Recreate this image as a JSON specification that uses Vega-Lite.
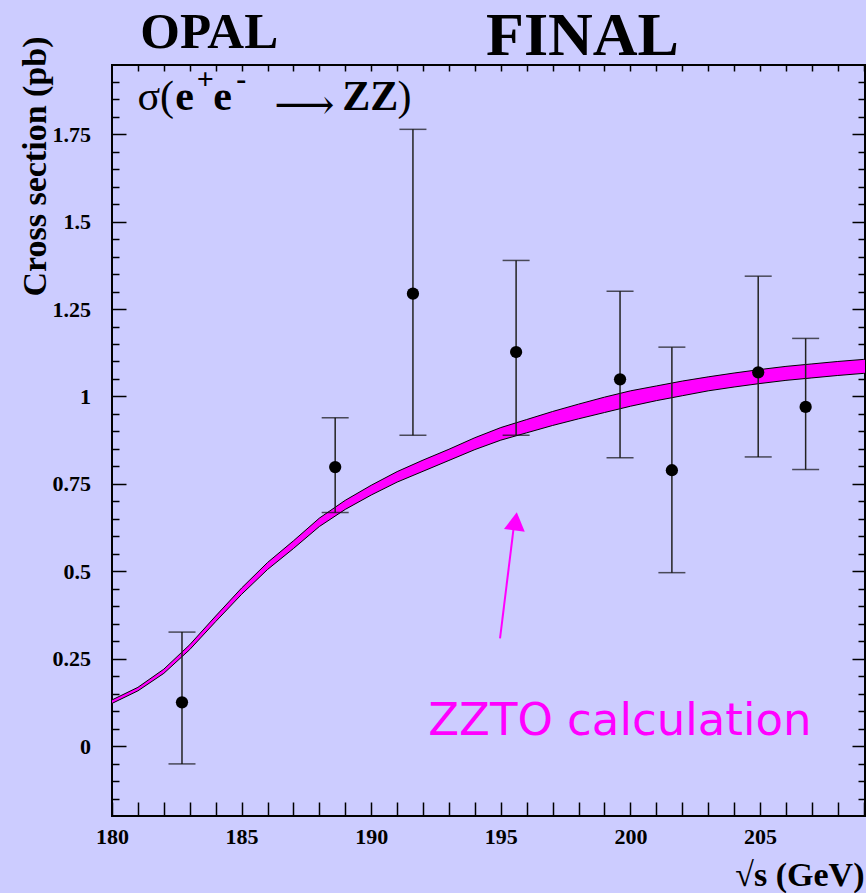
{
  "$schema": "https://vega.github.io/schema/vega-lite/v6.json",
  "width": 753,
  "height": 751,
  "autosize": "none",
  "padding": {"left": 112, "top": 65, "right": 1, "bottom": 77},
  "background": "#ccccff",
  "config": {
    "view": {"stroke": "black", "strokeWidth": 2, "fill": null},
    "axis": {"grid": false, "domain": false, "ticks": true, "tickColor": "black", "tickWidth": 1.5, "labelColor": "black", "titleColor": "black", "labelFont": "Liberation Serif", "titleFont": "Liberation Serif", "labelFontWeight": "bold", "titleFontWeight": "bold", "labelOverlap": false, "labelFlush": false}
  },
  "datasets": {
    "band": [
      {"x": 180, "lo": 0.122, "hi": 0.132},
      {"x": 181, "lo": 0.158, "hi": 0.168},
      {"x": 182, "lo": 0.208, "hi": 0.220},
      {"x": 183, "lo": 0.276, "hi": 0.290},
      {"x": 184, "lo": 0.356, "hi": 0.372},
      {"x": 185, "lo": 0.434, "hi": 0.452},
      {"x": 186, "lo": 0.505, "hi": 0.525},
      {"x": 187, "lo": 0.565, "hi": 0.587},
      {"x": 188, "lo": 0.628, "hi": 0.652},
      {"x": 189, "lo": 0.677, "hi": 0.703},
      {"x": 190, "lo": 0.718, "hi": 0.746},
      {"x": 191, "lo": 0.755, "hi": 0.785},
      {"x": 192, "lo": 0.786, "hi": 0.818},
      {"x": 193, "lo": 0.817, "hi": 0.849},
      {"x": 194, "lo": 0.848, "hi": 0.882},
      {"x": 195, "lo": 0.875, "hi": 0.911},
      {"x": 196, "lo": 0.896, "hi": 0.934},
      {"x": 197, "lo": 0.917, "hi": 0.957},
      {"x": 198, "lo": 0.936, "hi": 0.978},
      {"x": 199, "lo": 0.954, "hi": 0.998},
      {"x": 200, "lo": 0.972, "hi": 1.016},
      {"x": 201, "lo": 0.988, "hi": 1.030},
      {"x": 202, "lo": 1.002, "hi": 1.044},
      {"x": 203, "lo": 1.016, "hi": 1.056},
      {"x": 204, "lo": 1.027, "hi": 1.067},
      {"x": 205, "lo": 1.037, "hi": 1.077},
      {"x": 206, "lo": 1.046, "hi": 1.086},
      {"x": 207, "lo": 1.053, "hi": 1.093},
      {"x": 208, "lo": 1.060, "hi": 1.100},
      {"x": 209, "lo": 1.066, "hi": 1.106},
      {"x": 210, "lo": 1.071, "hi": 1.111}
    ],
    "points": [
      {"x": 182.70, "y": 0.125, "lo": -0.051, "hi": 0.326},
      {"x": 188.61, "y": 0.798, "lo": 0.668, "hi": 0.939},
      {"x": 191.61, "y": 1.294, "lo": 0.889, "hi": 1.764},
      {"x": 195.59, "y": 1.127, "lo": 0.889, "hi": 1.389},
      {"x": 199.60, "y": 1.049, "lo": 0.825, "hi": 1.301},
      {"x": 201.60, "y": 0.789, "lo": 0.496, "hi": 1.141},
      {"x": 204.93, "y": 1.069, "lo": 0.827, "hi": 1.344},
      {"x": 206.76, "y": 0.970, "lo": 0.791, "hi": 1.166}
    ]
  },
  "resolve": {"axis": {"x": "independent", "y": "independent"}},
  "layer": [
    {
      "data": {"name": "band"},
      "mark": {"type": "area", "color": "#ff00ff", "clip": true, "opacity": 1},
      "encoding": {
        "x": {"field": "x", "type": "quantitative", "scale": {"domain": [180, 209.05], "nice": false, "zero": false},
          "axis": {"orient": "bottom", "values": [180,181,182,183,184,185,186,187,188,189,190,191,192,193,194,195,196,197,198,199,200,201,202,203,204,205,206,207,208,209],
            "labelExpr": "datum.value % 5 === 0 ? format(datum.value, 'd') : ''",
            "tickSize": -14,
            "labelPadding": 24, "labelFontSize": 22,
            "title": "√s (GeV)", "titleFontSize": 34, "titleAnchor": "end", "titleAlign": "right", "titleBaseline": "alphabetic", "titleX": 752, "titleY": 69}},
        "y": {"field": "lo", "type": "quantitative", "scale": {"domain": [-0.2, 1.948], "nice": false, "zero": false},
          "axis": {"orient": "left", "values": [-0.15,-0.1,-0.05,0,0.05,0.1,0.15,0.2,0.25,0.3,0.35,0.4,0.45,0.5,0.55,0.6,0.65,0.7,0.75,0.8,0.85,0.9,0.95,1,1.05,1.1,1.15,1.2,1.25,1.3,1.35,1.4,1.45,1.5,1.55,1.6,1.65,1.7,1.75,1.8,1.85,1.9],
            "labelExpr": "abs(datum.value*4 - round(datum.value*4)) < 0.000001 ? format(datum.value, '~g') : ''",
            "tickSize": -14,
            "tickDash": {"condition": {"test": "abs(datum.value*4 - round(datum.value*4)) < 0.000001", "value": []}, "value": [7, 30]},
            "labelPadding": 35.5, "labelFontSize": 22,
            "title": "Cross section (pb)", "titleFontSize": 34, "titleAngle": -90, "titleAnchor": "end", "titleAlign": "right", "titleBaseline": "alphabetic", "titleX": -67, "titleY": -29}},
        "y2": {"field": "hi"}
      }
    },
    {
      "data": {"name": "band"},
      "mark": {"type": "line", "color": "black", "strokeWidth": 1, "clip": true},
      "encoding": {
        "x": {"field": "x", "type": "quantitative", "scale": {"domain": [180, 209.05], "nice": false, "zero": false},
          "axis": {"orient": "top", "values": [181,182,183,184,185,186,187,188,189,190,191,192,193,194,195,196,197,198,199,200,201,202,203,204,205,206,207,208,209],
            "labels": false, "title": null,
            "tickSize": -6}},
        "y": {"field": "hi", "type": "quantitative", "scale": {"domain": [-0.2, 1.948], "nice": false, "zero": false},
          "axis": {"orient": "right", "values": [-0.15,-0.1,-0.05,0,0.05,0.1,0.15,0.2,0.25,0.3,0.35,0.4,0.45,0.5,0.55,0.6,0.65,0.7,0.75,0.8,0.85,0.9,0.95,1,1.05,1.1,1.15,1.2,1.25,1.3,1.35,1.4,1.45,1.5,1.55,1.6,1.65,1.7,1.75,1.8,1.85,1.9],
            "labels": false, "title": null,
            "tickSize": -13,
            "tickDash": {"condition": {"test": "abs(datum.value*4 - round(datum.value*4)) < 0.000001", "value": []}, "value": [7, 30]}}}
      }
    },
    {
      "data": {"name": "band"},
      "mark": {"type": "line", "color": "black", "strokeWidth": 1, "clip": true},
      "encoding": {
        "x": {"field": "x", "type": "quantitative", "scale": {"domain": [180, 209.05], "nice": false, "zero": false}, "axis": null},
        "y": {"field": "lo", "type": "quantitative", "scale": {"domain": [-0.2, 1.948], "nice": false, "zero": false}, "axis": null}
      }
    },
    {
      "data": {"name": "points"},
      "mark": {"type": "rule", "color": "#222222", "strokeWidth": 1.5},
      "encoding": {
        "x": {"field": "x", "type": "quantitative", "scale": {"domain": [180, 209.05], "nice": false, "zero": false}, "axis": null},
        "y": {"field": "lo", "type": "quantitative", "scale": {"domain": [-0.2, 1.948], "nice": false, "zero": false}, "axis": null},
        "y2": {"field": "hi"}
      }
    },
    {
      "data": {"name": "points"},
      "mark": {"type": "tick", "orient": "horizontal", "size": 27, "thickness": 1.5, "color": "#111111"},
      "encoding": {
        "x": {"field": "x", "type": "quantitative", "scale": {"domain": [180, 209.05], "nice": false, "zero": false}, "axis": null},
        "y": {"field": "lo", "type": "quantitative", "scale": {"domain": [-0.2, 1.948], "nice": false, "zero": false}, "axis": null}
      }
    },
    {
      "data": {"name": "points"},
      "mark": {"type": "tick", "orient": "horizontal", "size": 27, "thickness": 1.5, "color": "#111111"},
      "encoding": {
        "x": {"field": "x", "type": "quantitative", "scale": {"domain": [180, 209.05], "nice": false, "zero": false}, "axis": null},
        "y": {"field": "hi", "type": "quantitative", "scale": {"domain": [-0.2, 1.948], "nice": false, "zero": false}, "axis": null}
      }
    },
    {
      "data": {"name": "points"},
      "mark": {"type": "circle", "size": 150, "color": "black", "opacity": 1},
      "encoding": {
        "x": {"field": "x", "type": "quantitative", "scale": {"domain": [180, 209.05], "nice": false, "zero": false}, "axis": null},
        "y": {"field": "y", "type": "quantitative", "scale": {"domain": [-0.2, 1.948], "nice": false, "zero": false}, "axis": null}
      }
    },
    {
      "data": {"values": [{"x0": 194.97, "y0": 0.308, "x1": 195.50, "y1": 0.627}]},
      "mark": {"type": "rule", "color": "#ff00ff", "strokeWidth": 2},
      "encoding": {
        "x": {"field": "x0", "type": "quantitative", "scale": {"domain": [180, 209.05], "nice": false, "zero": false}, "axis": null},
        "y": {"field": "y0", "type": "quantitative", "scale": {"domain": [-0.2, 1.948], "nice": false, "zero": false}, "axis": null},
        "x2": {"field": "x1"},
        "y2": {"field": "y1"}
      }
    },
    {
      "data": {"values": [{"x": 195.57, "y": 0.6427}]},
      "mark": {"type": "point", "shape": "triangle-up", "size": 441, "filled": true, "color": "#ff00ff", "opacity": 1, "angle": 7.7},
      "encoding": {
        "x": {"field": "x", "type": "quantitative", "scale": {"domain": [180, 209.05], "nice": false, "zero": false}, "axis": null},
        "y": {"field": "y", "type": "quantitative", "scale": {"domain": [-0.2, 1.948], "nice": false, "zero": false}, "axis": null}
      }
    },
    {
      "data": {"values": [{"x": 192.2, "y": 0.0306, "t": "ZZTO calculation"}]},
      "mark": {"type": "text", "font": "DejaVu Sans", "fontSize": 45, "color": "#ff00ff", "align": "left", "baseline": "alphabetic"},
      "encoding": {
        "x": {"field": "x", "type": "quantitative", "scale": {"domain": [180, 209.05], "nice": false, "zero": false}, "axis": null},
        "y": {"field": "y", "type": "quantitative", "scale": {"domain": [-0.2, 1.948], "nice": false, "zero": false}, "axis": null},
        "text": {"field": "t"}
      }
    },
    {
      "data": {"values": [{"x": 183.75, "y": 1.9957, "t": "OPAL"}]},
      "mark": {"type": "text", "font": "Liberation Serif", "fontWeight": "bold", "fontSize": 51, "color": "black", "align": "center", "baseline": "alphabetic"},
      "encoding": {
        "x": {"field": "x", "type": "quantitative", "scale": {"domain": [180, 209.05], "nice": false, "zero": false}, "axis": null},
        "y": {"field": "y", "type": "quantitative", "scale": {"domain": [-0.2, 1.948], "nice": false, "zero": false}, "axis": null},
        "text": {"field": "t"}
      }
    },
    {
      "data": {"values": [{"x": 198.15, "y": 1.978, "t": "FINAL"}]},
      "mark": {"type": "text", "font": "Liberation Serif", "fontWeight": "bold", "fontSize": 62, "color": "black", "align": "center", "baseline": "alphabetic"},
      "encoding": {
        "x": {"field": "x", "type": "quantitative", "scale": {"domain": [180, 209.05], "nice": false, "zero": false}, "axis": null},
        "y": {"field": "y", "type": "quantitative", "scale": {"domain": [-0.2, 1.948], "nice": false, "zero": false}, "axis": null},
        "text": {"field": "t"}
      }
    },
    {
      "data": {"values": [{"x": 180.98, "y": 1.8184, "t": "σ("}, {"x": 191.01, "y": 1.8184, "t": ")"}]},
      "mark": {"type": "text", "font": "Liberation Serif", "fontSize": 42, "color": "black", "align": "left", "baseline": "alphabetic"},
      "encoding": {
        "x": {"field": "x", "type": "quantitative", "scale": {"domain": [180, 209.05], "nice": false, "zero": false}, "axis": null},
        "y": {"field": "y", "type": "quantitative", "scale": {"domain": [-0.2, 1.948], "nice": false, "zero": false}, "axis": null},
        "text": {"field": "t"}
      }
    },
    {
      "data": {"values": [{"x": 187.42, "y": 1.830, "t": "⟶"}]},
      "mark": {"type": "text", "font": "DejaVu Serif", "fontSize": 42, "color": "black", "align": "center", "baseline": "middle"},
      "encoding": {
        "x": {"field": "x", "type": "quantitative", "scale": {"domain": [180, 209.05], "nice": false, "zero": false}, "axis": null},
        "y": {"field": "y", "type": "quantitative", "scale": {"domain": [-0.2, 1.948], "nice": false, "zero": false}, "axis": null},
        "text": {"field": "t"}
      }
    },
    {
      "data": {"values": [{"x": 182.44, "y": 1.8184, "t": "e"}, {"x": 183.91, "y": 1.8184, "t": "e"}, {"x": 188.88, "y": 1.8184, "t": "ZZ"}]},
      "mark": {"type": "text", "font": "Liberation Serif", "fontWeight": "bold", "fontSize": 42, "color": "black", "align": "left", "baseline": "alphabetic"},
      "encoding": {
        "x": {"field": "x", "type": "quantitative", "scale": {"domain": [180, 209.05], "nice": false, "zero": false}, "axis": null},
        "y": {"field": "y", "type": "quantitative", "scale": {"domain": [-0.2, 1.948], "nice": false, "zero": false}, "axis": null},
        "text": {"field": "t"}
      }
    },
    {
      "data": {"values": [{"x": 183.60, "y": 1.904, "t": "+"}, {"x": 184.99, "y": 1.904, "t": "-"}]},
      "mark": {"type": "text", "font": "Liberation Serif", "fontWeight": "bold", "fontSize": 30, "color": "black", "align": "center", "baseline": "middle"},
      "encoding": {
        "x": {"field": "x", "type": "quantitative", "scale": {"domain": [180, 209.05], "nice": false, "zero": false}, "axis": null},
        "y": {"field": "y", "type": "quantitative", "scale": {"domain": [-0.2, 1.948], "nice": false, "zero": false}, "axis": null},
        "text": {"field": "t"}
      }
    }
  ]
}
